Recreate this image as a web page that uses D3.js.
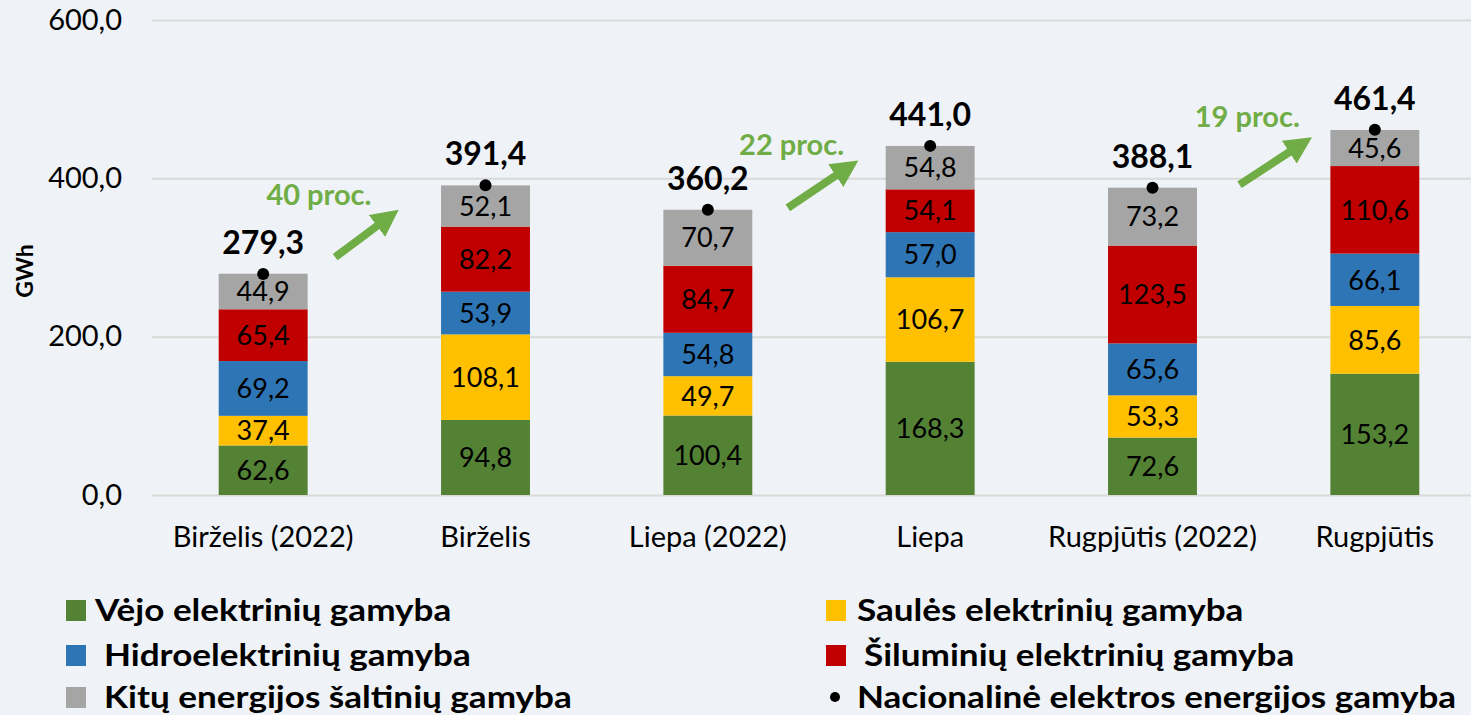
<!DOCTYPE html>
<html>
<head>
<meta charset="utf-8">
<script src="https://cdn.jsdelivr.net/npm/d3@7"></script>
<style>
  body { margin: 0; background: #eff3f7; }
  svg { display: block; }
</style>
</head>
<body>
<div id="chart"></div>
<script>
const months = ["Birželis (2022)", "Birželis", "Liepa (2022)", "Liepa", "Rugpjūtis (2022)", "Rugpjūtis"];
const wind = [62.6, 94.8, 100.4, 168.3, 72.6, 153.2];
const solar = [37.4, 108.1, 49.7, 106.7, 53.3, 85.6];
const hydro = [69.2, 53.9, 54.8, 57.0, 65.6, 66.1];
const thermal = [65.4, 82.2, 84.7, 54.1, 123.5, 110.6];
const other = [44.9, 52.1, 70.7, 54.8, 73.2, 45.6];
const totals = [279.3, 391.4, 360.2, 441.0, 388.1, 461.4];
const yTicks = [0, 200, 400, 600];
const growthLabels = ["40 proc.", "22 proc.", "19 proc."];

const seriesNames = ["Vėjo elektrinių gamyba", "Saulės elektrinių gamyba", "Hidroelektrinių gamyba",
  "Šiluminių elektrinių gamyba", "Kitų energijos šaltinių gamyba"];
const seriesValues = [wind, solar, hydro, thermal, other];
const colors = ["#548235", "#ffc000", "#2e75b6", "#c00000", "#a5a5a5"];

const width = 1471, height = 715;
const font = "Lato, 'Open Sans', sans-serif";
const fmt = v => d3.format(".1f")(v).replace(".", ",");

const rows = months.map((m, i) => {
  const r = { month: m };
  seriesNames.forEach((s, k) => r[s] = seriesValues[k][i]);
  return r;
});
const stack = d3.stack().keys(seriesNames)(rows);

const x = d3.scaleBand(months, [152, 1486]).paddingInner(0.6).paddingOuter(0.3);
const y = d3.scaleLinear([0, 600], [495, 20]);
const cx = i => x(months[i]) + x.bandwidth() / 2;

const svg = d3.select("#chart").append("svg")
    .attr("width", width)
    .attr("height", height)
    .attr("font-family", font);

svg.append("rect").attr("width", width).attr("height", height).attr("fill", "#eff3f7");

// grid + y axis
svg.append("g")
    .attr("transform", "translate(152,0)")
    .call(d3.axisLeft(y).tickValues(yTicks).tickSize(-(width - 152)).tickFormat(fmt).tickPadding(30))
    .call(g => g.select(".domain").remove())
    .call(g => g.selectAll(".tick line").attr("stroke", "#d9d9d9").attr("stroke-width", 2))
    .call(g => g.selectAll(".tick text").attr("font-size", 29).attr("fill", "#000").attr("font-family", font));

svg.append("text")
    .attr("transform", `translate(33,${y(283)}) rotate(-90)`)
    .attr("text-anchor", "middle")
    .attr("font-size", 23)
    .attr("font-weight", "bold")
    .text("GWh");

// x axis
svg.append("g")
    .attr("transform", `translate(0,${y(0)})`)
    .call(d3.axisBottom(x).tickSize(0).tickPadding(31))
    .call(g => g.select(".domain").remove())
    .call(g => g.selectAll(".tick text").attr("font-size", 29).attr("fill", "#000").attr("font-family", font));

// bars
const layer = svg.append("g")
  .selectAll("g")
  .data(stack)
  .join("g")
    .attr("fill", (d, i) => colors[i]);

layer.selectAll("rect")
  .data(d => d)
  .join("rect")
    .attr("x", d => x(d.data.month))
    .attr("y", d => y(d[1]))
    .attr("width", x.bandwidth())
    .attr("height", d => y(d[0]) - y(d[1]));

layer.selectAll("text")
  .data(d => d.map(p => Object.assign(p, { key: d.key })))
  .join("text")
    .attr("x", d => x(d.data.month) + x.bandwidth() / 2)
    .attr("y", d => (y(d[0]) + y(d[1])) / 2)
    .attr("dy", "0.36em")
    .attr("text-anchor", "middle")
    .attr("font-size", 27)
    .attr("fill", "#000")
    .text(d => fmt(d.data[d.key]));

// totals
svg.append("g")
  .selectAll("circle")
  .data(totals)
  .join("circle")
    .attr("cx", (d, i) => cx(i))
    .attr("cy", d => y(d))
    .attr("r", 6)
    .attr("fill", "#000");

svg.append("g")
  .selectAll("text")
  .data(totals)
  .join("text")
    .attr("x", (d, i) => cx(i))
    .attr("y", d => y(d) - 20)
    .attr("text-anchor", "middle")
    .attr("font-size", 32)
    .attr("font-weight", "bold")
    .text(fmt);

// growth arrows (placement of the annotations between bar pairs)
const arrowPlace = [
  { from: 0, to: 1, dx0: 72, dx1: -86, tipDy: 24, labelDx: -28, labelDy: -4 },
  { from: 2, to: 3, dx0: 80, dx1: -71, tipDy: 14, labelDx: -15, labelDy: -5 },
  { from: 4, to: 5, dx0: 87, dx1: -62, tipDy: 7, labelDx: -13, labelDy: -10 }
];

svg.append("defs").append("marker")
    .attr("id", "head")
    .attr("viewBox", "0 0 10 10")
    .attr("refX", 3).attr("refY", 5)
    .attr("markerWidth", 3.4).attr("markerHeight", 3.4)
    .attr("orient", "auto")
  .append("path")
    .attr("d", "M0,0L10,5L0,10z")
    .attr("fill", "#70ad47");

const ga = svg.append("g");
arrowPlace.forEach((a, k) => {
  const x1 = cx(a.to) + a.dx1, x0 = cx(a.from) + a.dx0;
  const y1 = y(totals[a.to]) + a.tipDy, y0 = y1 + 48;
  // shorten the shaft so the marker tip lands on (x1, y1)
  const len = Math.hypot(x1 - x0, y1 - y0), back = 20;
  const sx = x1 - (x1 - x0) / len * back, sy = y1 - (y1 - y0) / len * back;
  ga.append("line")
      .attr("x1", x0).attr("y1", y0)
      .attr("x2", sx).attr("y2", sy)
      .attr("stroke", "#70ad47")
      .attr("stroke-width", 8)
      .attr("marker-end", "url(#head)");
  ga.append("text")
      .attr("x", x1 + a.labelDx)
      .attr("y", y1 + a.labelDy)
      .attr("text-anchor", "end")
      .attr("font-size", 29)
      .attr("font-weight", "bold")
      .attr("fill", "#70ad47")
      .text(growthLabels[k]);
});

// legend
const legend = [
  { name: seriesNames[0], color: colors[0], x: 66, y: 610, tx: 95 },
  { name: seriesNames[2], color: colors[2], x: 66, y: 655, tx: 104 },
  { name: seriesNames[4], color: colors[4], x: 66, y: 697, tx: 104 },
  { name: seriesNames[1], color: colors[1], x: 826, y: 610, tx: 857 },
  { name: seriesNames[3], color: colors[3], x: 826, y: 655, tx: 864 },
  { name: "Nacionalinė elektros energijos gamyba", dot: true, x: 826, y: 697, tx: 857 }
];
const lg = svg.append("g").selectAll("g").data(legend).join("g");
lg.filter(d => !d.dot).append("rect")
    .attr("x", d => d.x).attr("y", d => d.y - 10)
    .attr("width", 20).attr("height", 21)
    .attr("fill", d => d.color);
lg.filter(d => d.dot).append("circle")
    .attr("cx", d => d.x + 9).attr("cy", d => d.y)
    .attr("r", 5).attr("fill", "#000");
lg.append("text")
    .attr("transform", d => `translate(${d.tx},${d.y}) scale(1.17,1)`)
    .attr("dy", "0.35em")
    .attr("font-size", 30)
    .attr("font-weight", "bold")
    .text(d => d.name);
</script>
</body>
</html>
